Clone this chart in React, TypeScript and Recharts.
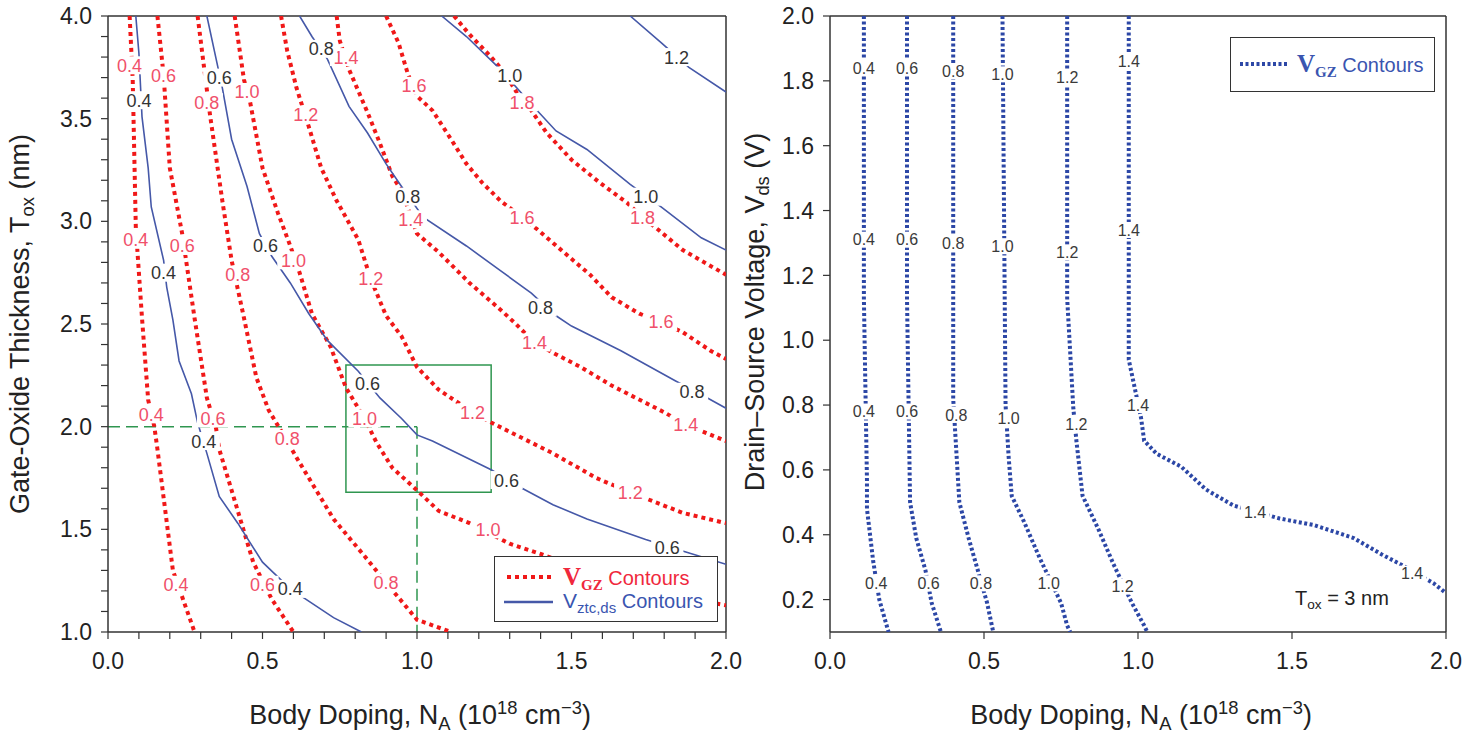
import React from "react";
import {
    ReferenceArea,
    ReferenceLine,
    Scatter,
    ScatterChart,
    XAxis,
    YAxis,
} from "recharts";

// ---- left panel: V_GZ contours (red, dotted), N_A vs T_ox ----
const vgz04 = [[0.07, 4.0], [0.08, 3.69], [0.09, 2.97], [0.11, 2.53], [0.13, 2.13], [0.15, 2.0], [0.16, 1.89], [0.21, 1.3], [0.28, 1.0]];
const vgz06 = [[0.16, 4.0], [0.18, 3.71], [0.2, 3.26], [0.24, 2.94], [0.28, 2.53], [0.32, 2.14], [0.35, 1.99], [0.36, 1.89], [0.42, 1.59], [0.47, 1.34], [0.53, 1.16], [0.6, 1.0]];
const vgz08 = [[0.29, 4.0], [0.32, 3.64], [0.33, 3.52], [0.37, 3.1], [0.4, 2.81], [0.44, 2.53], [0.48, 2.24], [0.52, 2.08], [0.56, 1.98], [0.61, 1.85], [0.73, 1.55], [0.83, 1.37], [0.9, 1.24], [1.0, 1.06], [1.11, 1.0]];
const vgz10 = [[0.41, 4.0], [0.44, 3.69], [0.46, 3.58], [0.5, 3.26], [0.55, 3.04], [0.59, 2.88], [0.62, 2.75], [0.66, 2.55], [0.72, 2.39], [0.77, 2.19], [0.83, 2.04], [0.87, 1.92], [0.92, 1.8], [1.0, 1.69], [1.07, 1.59], [1.17, 1.53], [1.3, 1.43], [1.4, 1.38], [1.66, 1.24], [1.85, 1.17], [2.0, 1.13]];
const vgz12 = [[0.56, 4.0], [0.58, 3.83], [0.61, 3.65], [0.65, 3.46], [0.69, 3.26], [0.74, 3.1], [0.81, 2.91], [0.85, 2.72], [0.9, 2.54], [0.95, 2.44], [1.0, 2.29], [1.07, 2.18], [1.18, 2.07], [1.24, 2.02], [1.32, 1.96], [1.44, 1.87], [1.58, 1.75], [1.69, 1.68], [1.86, 1.58], [2.0, 1.53]];
const vgz14 = [[0.74, 4.0], [0.75, 3.88], [0.78, 3.74], [0.84, 3.53], [0.88, 3.38], [0.92, 3.22], [0.95, 3.15], [1.0, 2.94], [1.07, 2.85], [1.17, 2.7], [1.27, 2.57], [1.32, 2.5], [1.38, 2.41], [1.44, 2.36], [1.53, 2.29], [1.63, 2.2], [1.8, 2.07], [1.87, 2.01], [2.0, 1.93]];
const vgz16 = [[0.9, 4.0], [0.94, 3.87], [0.97, 3.72], [1.0, 3.61], [1.05, 3.54], [1.11, 3.4], [1.16, 3.28], [1.21, 3.19], [1.27, 3.1], [1.34, 3.02], [1.39, 2.96], [1.49, 2.83], [1.56, 2.74], [1.63, 2.63], [1.72, 2.55], [1.79, 2.51], [1.86, 2.46], [1.95, 2.37], [2.0, 2.33]];
const vgz18 = [[1.12, 4.0], [1.17, 3.91], [1.24, 3.8], [1.28, 3.73], [1.33, 3.61], [1.37, 3.54], [1.42, 3.43], [1.5, 3.3], [1.59, 3.19], [1.68, 3.09], [1.73, 3.02], [1.78, 2.96], [1.86, 2.86], [2.0, 2.74]];

// ---- left panel: V_ztc,ds contours (blue, solid) ----
const vztc04 = [[0.09, 4.0], [0.1, 3.82], [0.11, 3.51], [0.13, 3.26], [0.14, 3.07], [0.18, 2.81], [0.19, 2.68], [0.21, 2.52], [0.23, 2.32], [0.27, 2.16], [0.29, 2.02], [0.32, 1.87], [0.36, 1.66], [0.42, 1.53], [0.5, 1.34], [0.59, 1.21], [0.73, 1.07], [0.82, 1.0]];
const vztc06 = [[0.32, 4.0], [0.35, 3.79], [0.37, 3.65], [0.4, 3.4], [0.45, 3.17], [0.49, 2.94], [0.53, 2.83], [0.59, 2.7], [0.65, 2.55], [0.71, 2.42], [0.81, 2.27], [0.88, 2.14], [0.95, 2.04], [1.0, 1.96], [1.05, 1.93], [1.24, 1.79], [1.34, 1.7], [1.44, 1.62], [1.55, 1.55], [1.74, 1.45], [1.87, 1.39], [2.0, 1.33]];
const vztc08 = [[0.62, 4.0], [0.66, 3.9], [0.71, 3.79], [0.78, 3.56], [0.84, 3.43], [0.9, 3.28], [0.95, 3.17], [1.02, 3.02], [1.16, 2.88], [1.27, 2.76], [1.37, 2.65], [1.45, 2.54], [1.5, 2.49], [1.66, 2.37], [1.84, 2.22], [1.94, 2.14], [2.0, 2.09]];
const vztc10 = [[1.08, 4.0], [1.16, 3.9], [1.27, 3.74], [1.37, 3.57], [1.45, 3.44], [1.55, 3.35], [1.69, 3.18], [1.79, 3.07], [1.92, 2.92], [2.0, 2.86]];
const vztc12 = [[1.69, 4.0], [1.79, 3.87], [1.88, 3.75], [2.0, 3.63]];

const vgzTags = [
    { x: 0.07, y: 3.76, t: "0.4" }, { x: 0.09, y: 2.91, t: "0.4" }, { x: 0.14, y: 2.06, t: "0.4" }, { x: 0.22, y: 1.23, t: "0.4" },
    { x: 0.18, y: 3.71, t: "0.6" }, { x: 0.24, y: 2.88, t: "0.6" }, { x: 0.34, y: 2.04, t: "0.6" }, { x: 0.5, y: 1.23, t: "0.6" },
    { x: 0.32, y: 3.58, t: "0.8" }, { x: 0.42, y: 2.74, t: "0.8" }, { x: 0.58, y: 1.94, t: "0.8" }, { x: 0.9, y: 1.24, t: "0.8" },
    { x: 0.45, y: 3.63, t: "1.0" }, { x: 0.6, y: 2.81, t: "1.0" }, { x: 0.83, y: 2.04, t: "1.0" }, { x: 1.23, y: 1.5, t: "1.0" },
    { x: 0.64, y: 3.52, t: "1.2" }, { x: 0.85, y: 2.72, t: "1.2" }, { x: 1.18, y: 2.07, t: "1.2" }, { x: 1.69, y: 1.68, t: "1.2" },
    { x: 0.77, y: 3.8, t: "1.4" }, { x: 0.98, y: 3.01, t: "1.4" }, { x: 1.38, y: 2.41, t: "1.4" }, { x: 1.87, y: 2.01, t: "1.4" },
    { x: 0.99, y: 3.66, t: "1.6" }, { x: 1.34, y: 3.02, t: "1.6" }, { x: 1.79, y: 2.51, t: "1.6" },
    { x: 1.34, y: 3.58, t: "1.8" }, { x: 1.73, y: 3.02, t: "1.8" },
];
const vztcTags = [
    { x: 0.1, y: 3.59, t: "0.4" }, { x: 0.18, y: 2.75, t: "0.4" }, { x: 0.31, y: 1.93, t: "0.4" }, { x: 0.59, y: 1.21, t: "0.4" },
    { x: 0.36, y: 3.7, t: "0.6" }, { x: 0.51, y: 2.88, t: "0.6" }, { x: 0.84, y: 2.21, t: "0.6" }, { x: 1.29, y: 1.74, t: "0.6" }, { x: 1.81, y: 1.41, t: "0.6" },
    { x: 0.69, y: 3.84, t: "0.8" }, { x: 0.97, y: 3.12, t: "0.8" }, { x: 1.4, y: 2.58, t: "0.8" }, { x: 1.89, y: 2.17, t: "0.8" },
    { x: 1.3, y: 3.71, t: "1.0" }, { x: 1.74, y: 3.12, t: "1.0" },
    { x: 1.84, y: 3.8, t: "1.2" },
];

// zoom box and guide lines (N_A = 1e18, T_ox = 2 nm)
const zoomBox = { x1: 0.77, x2: 1.24, y1: 1.68, y2: 2.3 };
const guideN = 1.0;
const guideT = 2.0;

// ---- right panel: V_GZ contours at T_ox = 3 nm, N_A vs V_ds ----
const vds04 = [[0.11, 2.0], [0.11, 1.13], [0.12, 0.57], [0.12, 0.48], [0.14, 0.32], [0.16, 0.2], [0.19, 0.1]];
const vds06 = [[0.25, 2.0], [0.25, 1.13], [0.26, 0.5], [0.28, 0.39], [0.31, 0.29], [0.33, 0.19], [0.36, 0.1]];
const vds08 = [[0.4, 2.0], [0.4, 0.82], [0.41, 0.66], [0.42, 0.5], [0.45, 0.39], [0.48, 0.29], [0.51, 0.19], [0.53, 0.1]];
const vds10 = [[0.56, 2.0], [0.57, 0.8], [0.58, 0.64], [0.59, 0.52], [0.63, 0.44], [0.68, 0.33], [0.75, 0.19], [0.77, 0.12], [0.78, 0.1]];
const vds12 = [[0.77, 2.0], [0.77, 1.13], [0.79, 0.79], [0.8, 0.69], [0.82, 0.52], [0.87, 0.42], [0.92, 0.31], [0.98, 0.19], [1.02, 0.12], [1.03, 0.1]];
const vds14 = [[0.97, 2.0], [0.97, 0.94], [0.99, 0.85], [1.01, 0.76], [1.02, 0.69], [1.06, 0.65], [1.14, 0.61], [1.22, 0.54], [1.31, 0.49], [1.46, 0.45], [1.57, 0.43], [1.7, 0.39], [1.79, 0.34], [1.85, 0.31], [1.96, 0.25], [2.0, 0.22]];

const vdsTags = [
    { x: 0.11, y: 1.84, t: "0.4" }, { x: 0.25, y: 1.84, t: "0.6" }, { x: 0.4, y: 1.83, t: "0.8" }, { x: 0.56, y: 1.82, t: "1.0" }, { x: 0.77, y: 1.81, t: "1.2" }, { x: 0.97, y: 1.86, t: "1.4" },
    { x: 0.11, y: 1.31, t: "0.4" }, { x: 0.25, y: 1.31, t: "0.6" }, { x: 0.4, y: 1.3, t: "0.8" }, { x: 0.56, y: 1.29, t: "1.0" }, { x: 0.77, y: 1.27, t: "1.2" }, { x: 0.97, y: 1.34, t: "1.4" },
    { x: 0.11, y: 0.78, t: "0.4" }, { x: 0.25, y: 0.78, t: "0.6" }, { x: 0.41, y: 0.77, t: "0.8" }, { x: 0.58, y: 0.76, t: "1.0" }, { x: 0.8, y: 0.74, t: "1.2" }, { x: 1.0, y: 0.8, t: "1.4" },
    { x: 0.15, y: 0.25, t: "0.4" }, { x: 0.32, y: 0.25, t: "0.6" }, { x: 0.49, y: 0.25, t: "0.8" }, { x: 0.71, y: 0.25, t: "1.0" }, { x: 0.95, y: 0.24, t: "1.2" },
    { x: 1.38, y: 0.47, t: "1.4" }, { x: 1.89, y: 0.28, t: "1.4" },
];

const leftXTicks = [0, 0.1, 0.2, 0.3, 0.4, 0.5, 0.6, 0.7, 0.8, 0.9, 1.0, 1.1, 1.2, 1.3, 1.4, 1.5, 1.6, 1.7, 1.8, 1.9, 2.0];
const leftYTicks = [1.0, 1.1, 1.2, 1.3, 1.4, 1.5, 1.6, 1.7, 1.8, 1.9, 2.0, 2.1, 2.2, 2.3, 2.4, 2.5, 2.6, 2.7, 2.8, 2.9, 3.0, 3.1, 3.2, 3.3, 3.4, 3.5, 3.6, 3.7, 3.8, 3.9, 4.0];
const rightXTicks = [0, 0.5, 1.0, 1.5, 2.0];
const rightYTicks = [0.2, 0.4, 0.6, 0.8, 1.0, 1.2, 1.4, 1.6, 1.8, 2.0];

const FONT = '"Liberation Sans", Arial, sans-serif';
const SERIF = '"Liberation Serif", "Times New Roman", serif';
const RED = "#f01818";
const RED_TXT = "#f0506a";
const BLUE = "#4558a8";
const BLUE_DOT = "#2c47a6";
const GREEN = "#2f9650";
const AXIS = "#333";

const RED_DASH = { stroke: RED, strokeWidth: 4, strokeDasharray: "4 4" };
const BLUE_SOLID = { stroke: BLUE, strokeWidth: 1.6 };
const BLUE_DOTS = { stroke: BLUE_DOT, strokeWidth: 4, strokeDasharray: "3 2.5" };

const toPts = (a: number[][]) => a.map(([x, y]) => ({ x, y }));
const noDot = () => <g />;

const halfTick = (v: number) =>
    Math.abs(v * 2 - Math.round(v * 2)) < 1e-6 ? v.toFixed(1) : "";

function tag(color: string, size: number) {
    return (p: any) => {
        const t = p.payload.t;
        const w = t.length * size * 0.56 + 2;
        return (
            <g>
                <rect x={p.cx - w / 2} y={p.cy - size * 0.5} width={w} height={size} fill="#fff" />
                <text x={p.cx} y={p.cy} dy="0.36em" textAnchor="middle" fontSize={size} fill={color} fontFamily={FONT}>
                    {t}
                </text>
            </g>
        );
    };
}

const axisProps = {
    axisLine: { stroke: AXIS, strokeWidth: 1.5 },
    tickLine: { stroke: AXIS, strokeWidth: 1.2 },
    tickSize: 7,
    interval: 0 as const,
    allowDataOverflow: true,
};
const tickStyle = { fontSize: 23, fill: "#222", fontFamily: FONT };

function LeftPanel() {
    return (
        <ScatterChart width={760} height={738} margin={{ top: 16, right: 34, bottom: 66, left: 0 }}>
            <XAxis type="number" dataKey="x" domain={[0, 2]} ticks={leftXTicks} tickFormatter={halfTick}
                height={40} tick={tickStyle} tickMargin={14} {...axisProps} />
            <YAxis type="number" dataKey="y" domain={[1, 4]} ticks={leftYTicks} tickFormatter={halfTick}
                width={108} tick={tickStyle} tickMargin={9} {...axisProps} />
            <ReferenceLine y={4} stroke={AXIS} strokeWidth={1.5} />
            <ReferenceLine x={2} stroke={AXIS} strokeWidth={1.5} />
            {[vgz04, vgz06, vgz08, vgz10, vgz12, vgz14, vgz16, vgz18].map((c, i) => (
                <Scatter key={"r" + i} data={toPts(c)} line={RED_DASH} shape={noDot} isAnimationActive={false} />
            ))}
            {[vztc04, vztc06, vztc08, vztc10, vztc12].map((c, i) => (
                <Scatter key={"b" + i} data={toPts(c)} line={BLUE_SOLID} shape={noDot} isAnimationActive={false} />
            ))}
            <ReferenceArea {...zoomBox} fill="none" fillOpacity={0} stroke={GREEN} strokeWidth={1.5} />
            <ReferenceLine segment={[{ x: 0, y: guideT }, { x: guideN, y: guideT }]} stroke={GREEN} strokeWidth={1.5} strokeDasharray="12 6" />
            <ReferenceLine segment={[{ x: guideN, y: guideT }, { x: guideN, y: 1 }]} stroke={GREEN} strokeWidth={1.5} strokeDasharray="12 6" />
            <Scatter data={vgzTags} shape={tag(RED_TXT, 18)} isAnimationActive={false} />
            <Scatter data={vztcTags} shape={tag("#333", 18)} isAnimationActive={false} />
        </ScatterChart>
    );
}

function RightPanel() {
    return (
        <ScatterChart width={740} height={738} margin={{ top: 16, right: 34, bottom: 66, left: 0 }}>
            <XAxis type="number" dataKey="x" domain={[0, 2]} ticks={rightXTicks} tickFormatter={(v: number) => v.toFixed(1)}
                height={40} tick={tickStyle} tickMargin={14} {...axisProps} />
            <YAxis type="number" dataKey="y" domain={[0.1, 2.0]} ticks={rightYTicks} tickFormatter={(v: number) => v.toFixed(1)}
                width={90} tick={tickStyle} tickMargin={9} {...axisProps} />
            <ReferenceLine y={2} stroke={AXIS} strokeWidth={1.5} />
            <ReferenceLine x={2} stroke={AXIS} strokeWidth={1.5} />
            {[vds04, vds06, vds08, vds10, vds12, vds14].map((c, i) => (
                <Scatter key={"d" + i} data={toPts(c)} line={BLUE_DOTS} shape={noDot} isAnimationActive={false} />
            ))}
            <Scatter data={vdsTags} shape={tag("#3a3a3a", 16)} isAnimationActive={false} />
        </ScatterChart>
    );
}

const subStyle = { fontSize: "0.68em", verticalAlign: "-0.3em" };
const supStyle = { fontSize: "0.68em", verticalAlign: "0.55em" };

function XTitle({ cx }: { cx: number }) {
    return (
        <div style={{ position: "absolute", left: cx, top: 716, transform: "translate(-50%, -50%)", whiteSpace: "nowrap",
            fontFamily: FONT, fontSize: 27, lineHeight: 1, color: "#222" }}>
            Body Doping, N<span style={subStyle}>A</span> (10<span style={supStyle}>18</span> cm<span style={supStyle}>−3</span>)
        </div>
    );
}

function LegendBox({ left, top, width, height, children }: any) {
    return (
        <div style={{ position: "absolute", left, top, width, height, boxSizing: "border-box", border: "1.5px solid #333",
            background: "#fff", fontFamily: FONT, fontSize: 20 }}>
            {children}
        </div>
    );
}

function Vsym({ sub, color, bold }: { sub: string; color: string; bold: boolean }) {
    return (
        <span style={{ color }}>
            <span style={{ fontFamily: bold ? SERIF : FONT, fontWeight: bold ? "bold" : "normal", fontSize: bold ? 25 : 21 }}>V</span>
            <span style={{ fontFamily: bold ? SERIF : FONT, fontWeight: bold ? "bold" : "normal", fontSize: 15, verticalAlign: "-0.3em" }}>{sub}</span>
            <span> Contours</span>
        </span>
    );
}

export default function App() {
    return (
        <div style={{ position: "absolute", left: 0, top: 0, width: 1481, height: 738, background: "#fff", overflow: "hidden" }}>
            <div style={{ position: "absolute", left: 0, top: 0 }}>
                <LeftPanel />
            </div>
            <div style={{ position: "absolute", left: 740, top: 0 }}>
                <RightPanel />
            </div>

            <XTitle cx={420} />
            <XTitle cx={1141} />

            <div style={{ position: "absolute", left: 22, top: 324, transform: "translate(-50%, -50%) rotate(-90deg)", whiteSpace: "nowrap",
                fontFamily: FONT, fontSize: 27, lineHeight: 1, color: "#222" }}>
                Gate-Oxide Thickness, T<span style={subStyle}>ox</span> (nm)
            </div>
            <div style={{ position: "absolute", left: 757, top: 312, transform: "translate(-50%, -50%) rotate(-90deg)", whiteSpace: "nowrap",
                fontFamily: FONT, fontSize: 27, lineHeight: 1, color: "#222" }}>
                Drain–Source Voltage, V<span style={subStyle}>ds</span> (V)
            </div>

            <LegendBox left={494} top={556} width={224} height={66}>
                <svg style={{ position: "absolute", left: 0, top: 0 }} width={70} height={60}>
                    <line x1={12} y1={20} x2={56} y2={20} {...RED_DASH} />
                    <line x1={9} y1={45} x2={58} y2={45} {...BLUE_SOLID} strokeWidth={2.5} />
                </svg>
                <div style={{ position: "absolute", left: 68, top: 6, whiteSpace: "nowrap" }}>
                    <Vsym sub="GZ" color="#f0283c" bold={true} />
                </div>
                <div style={{ position: "absolute", left: 68, top: 32, whiteSpace: "nowrap" }}>
                    <Vsym sub="ztc,ds" color="#3a55b0" bold={false} />
                </div>
            </LegendBox>

            <LegendBox left={1230} top={37} width={205} height={55}>
                <svg style={{ position: "absolute", left: 0, top: 0 }} width={66} height={50}>
                    <line x1={9} y1={26} x2={57} y2={26} {...BLUE_DOTS} />
                </svg>
                <div style={{ position: "absolute", left: 66, top: 12, whiteSpace: "nowrap" }}>
                    <Vsym sub="GZ" color="#3a55b0" bold={true} />
                </div>
            </LegendBox>

            <div style={{ position: "absolute", left: 1295, top: 600, transform: "translateY(-50%)", whiteSpace: "nowrap",
                fontFamily: FONT, fontSize: 20, lineHeight: 1, color: "#222" }}>
                T<span style={subStyle}>ox</span> = 3 nm
            </div>
        </div>
    );
}
